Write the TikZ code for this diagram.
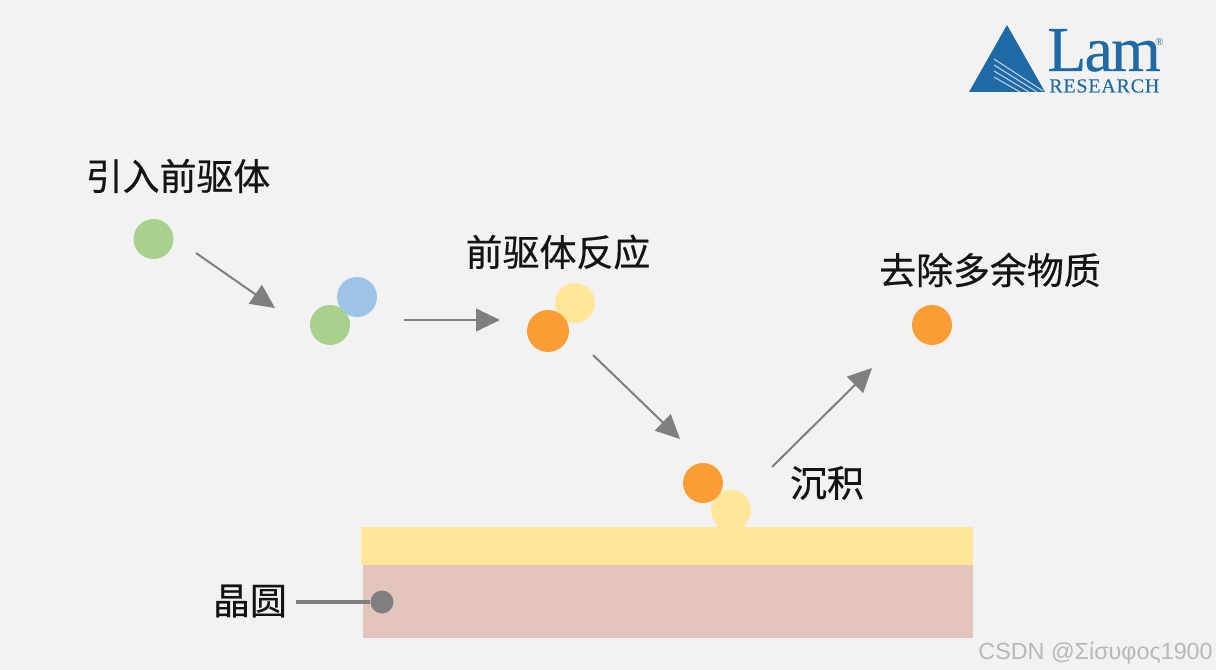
\documentclass[tikz,border=0pt]{standalone}
\usepackage{fontspec}
\setmainfont{Liberation Sans}
\newfontfamily\cjk[FakeBold=0.5]{Noto Sans CJK SC}
\newfontfamily\logofont{Liberation Serif}
\usetikzlibrary{arrows.meta}
\definecolor{bgc}{HTML}{F2F2F2}
\definecolor{ballgreen}{HTML}{A9D18E}
\definecolor{ballblue}{HTML}{9DC3E6}
\definecolor{ballorange}{HTML}{F99D34}
\definecolor{ballyellow}{HTML}{FFE699}
\definecolor{waferc}{HTML}{E4C5BB}
\definecolor{arrowc}{HTML}{7F7F7F}
\definecolor{lamblue}{HTML}{1F6AA5}
\tikzset{
  x=0.75pt,y=-0.75pt,
  lbl/.style={font=\cjk\fontsize{27.7}{30}\selectfont,text=black!92,inner sep=0pt,anchor=center},
  ball/.style={circle,inner sep=0pt,minimum size=#1*0.75pt},
  conn/.style={draw=arrowc,line width=1.5pt,-{Triangle[length=18pt,width=17pt]},shorten >=0pt},
  plain/.style={draw=arrowc,line width=2.4pt},
}
\begin{document}
\begin{tikzpicture}
\useasboundingbox (0,0) rectangle (1216,670);
\fill[bgc] (0,0) rectangle (1216,670);
% wafer
\fill[waferc] (363,565) rectangle (973,638);
\fill[ballyellow] (361,527) rectangle (973,565);
% balls
\node[ball=40,fill=ballgreen] (g1) at (153.5,239) {};
\node[ball=40,fill=ballblue] (b2) at (357,297) {};
\node[ball=40,fill=ballgreen] (g2) at (330,325) {};
\node[ball=40,fill=ballyellow] (y3) at (575,303) {};
\node[ball=42,fill=ballorange] (o3) at (548,331) {};
\node[ball=40,fill=ballyellow] (y4) at (731,510) {};
\fill[ballyellow] (717,522) rectangle (745,528);
\node[ball=40,fill=ballorange] (o4) at (703,483) {};
\node[ball=40,fill=ballorange] (o5) at (932,325) {};
% labels
\node[lbl] (t1) at (178,176) {引入前驱体};
\node[lbl] (t2) at (558,252) {前驱体反应};
\node[lbl] (t3) at (990,270) {去除多余物质};
\node[lbl] (t4) at (827,483) {沉积};
\node[lbl] (t5) at (250,601) {晶圆};
% arrow ends
\coordinate (a1s) at (196,253); \coordinate (a1e) at (275,308);
\coordinate (a2s) at (404,320); \coordinate (a2e) at (500,320);
\coordinate (a3s) at (593,355); \coordinate (a3e) at (680,439);
\coordinate (a4s) at (772,467); \coordinate (a4e) at (872,368);
\draw[conn] (a1s) -- (a1e);
\draw[conn] (a2s) -- (a2e);
\draw[conn] (a3s) -- (a3e);
\draw[conn] (a4s) -- (a4e);
% wafer pointer
\node[ball=23,fill=arrowc] (dot) at (382,602) {};
\coordinate (ps) at (296,602);
\draw[plain] (ps) -- (dot);
% logo
\fill[lamblue] (1007,25) -- (1045,92) -- (969,92) -- cycle;
\draw[white!70!lamblue,line width=0.8pt] (994,59) -- (1043,91);
\draw[white!70!lamblue,line width=0.8pt] (994,65) -- (1037,92);
\draw[white!70!lamblue,line width=0.8pt] (994,71) -- (1029,92);
\draw[white!70!lamblue,line width=0.8pt] (994,77) -- (1020,92);
\node[inner sep=0pt,anchor=base west,text=lamblue] (lam) at (1047,71)
  {\logofont\fontsize{48}{50}\selectfont\addfontfeatures{LetterSpace=-3,FakeBold=0.3}Lam\kern-4pt\raisebox{19pt}{\fontsize{8}{8}\selectfont\addfontfeatures{LetterSpace=0,FakeBold=0}®}};
\node[inner sep=0pt,anchor=base west,text=lamblue] (res) at (1049,92.5)
  {\logofont\fontsize{15}{16}\selectfont\addfontfeatures{LetterSpace=4,FakeBold=0.2}RESEARCH};
% watermark
\node[inner sep=0pt,anchor=base east,text=black!28] (wm) at (1213,659)
  {\fontsize{17.5}{18}\selectfont CSDN @Σίσυφος1900};
\end{tikzpicture}
\end{document}
